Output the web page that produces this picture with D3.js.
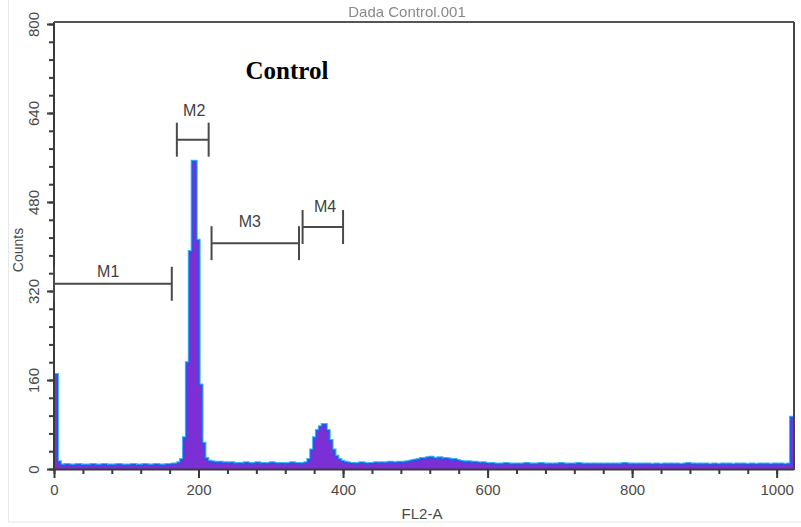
<!DOCTYPE html>
<html>
<head>
<meta charset="utf-8">
<script src="https://cdn.jsdelivr.net/npm/d3@7"></script>
<style>
  html, body { margin: 0; padding: 0; background: #fff; }
  svg { display: block; }
</style>
</head>
<body>
<svg id="chart" width="801" height="527"></svg>
<script>
// ---------------- data ----------------
const chartTitle = "Dada Control.001";
const panelLabel = "Control";
const xAxisTitle = "FL2-A";
const yAxisTitle = "Counts";
const binWidth = 4; // channels per bin
// counts per 4-channel bin, channels 0..1023
const counts = [
  169,12,6,5,7,6,5,6,7,5,6,6,5,7,6,5,
  6,7,5,6,5,6,7,6,5,6,6,7,5,6,5,7,
  6,5,6,7,6,5,6,7,7,8,8,10,16,55,190,390,
  552,410,150,45,18,13,12,11,10,11,9,10,9,10,8,9,
  9,8,10,9,8,9,10,8,9,8,9,10,9,8,9,9,
  8,9,10,9,9,8,9,10,16,33,55,68,75,79,68,50,
  33,22,16,13,11,10,9,9,8,9,10,9,8,9,9,10,
  9,10,9,10,11,10,10,11,10,11,12,13,14,15,16,18,
  17,19,20,18,17,19,16,18,17,15,16,14,13,12,11,12,
  10,11,10,9,10,9,8,9,8,7,8,8,9,8,7,8,
  8,7,8,9,8,7,8,8,9,8,7,8,7,8,8,9,
  8,7,8,8,7,9,8,7,8,7,8,8,7,8,7,8,
  7,8,8,7,8,9,8,7,8,7,8,7,8,8,7,7,
  8,7,7,8,7,8,7,8,7,7,8,9,7,8,7,8,
  7,8,7,7,8,7,7,8,7,8,7,7,8,7,8,7,
  7,8,7,7,8,7,8,7,7,8,7,8,7,7,8,92
];
const xTickLabels = [0, 200, 400, 600, 800, 1000];
const xMinorTicks = d3.range(0, 1024, 40);
const yTickLabels = [0, 160, 320, 480, 640, 800];
const yMinorTicks = d3.range(0, 801, 32);

// markers (channel ranges and gate levels in counts)
const markerNames  = ["M1", "M2", "M3", "M4"];
const markerStart  = [0, 170, 218, 344];
const markerEnd    = [163, 214, 339, 400];
const markerLevel  = [333, 592, 406, 435];
const markerLabelX = [75, 194, 271, 375];
const markerLabelY = [345, 635, 435, 462];

// ---------------- layout ----------------
const svg = d3.select("#chart");
const X0 = 54, X1 = 794, Y0 = 469, Y1 = 24, YTOP = 22;
const x = d3.scaleLinear().domain([0, 1024]).range([X0, X1]);
const y = d3.scaleLinear().domain([0, 800]).range([Y0, Y1]);
const axisColor = "#3a3a3a";
const textColor = "#4a4a4a";
const sans = "Liberation Sans, Arial, sans-serif";

// faint outer frame
svg.append("rect").attr("x", 8.5).attr("y", -2).attr("width", 800).attr("height", 524)
  .attr("fill", "none").attr("stroke", "#e8e8e8").attr("stroke-width", 1);

const defs = svg.append("defs");
defs.append("filter").attr("id", "blur").append("feGaussianBlur").attr("stdDeviation", 0.7);
defs.append("clipPath").attr("id", "titleClip").append("rect")
  .attr("x", 0).attr("y", 7).attr("width", 801).attr("height", 14);
defs.append("clipPath").attr("id", "plotClip").append("rect")
  .attr("x", X0 - 2).attr("y", YTOP).attr("width", X1 - X0 + 2).attr("height", Y0 - YTOP);

svg.append("text")
  .attr("x", 407).attr("y", 17)
  .attr("text-anchor", "middle")
  .attr("font-family", sans).attr("font-size", 15)
  .attr("fill", "#8a8a8a")
  .attr("clip-path", "url(#titleClip)")
  .attr("filter", "url(#blur)")
  .text(chartTitle);

// ---------------- histogram ----------------
const bins = counts.map((c, i) => ({ x0: i * binWidth, c }));
bins.push({ x0: counts.length * binWidth, c: counts[counts.length - 1] });

const area = d3.area()
  .x(d => x(d.x0))
  .y0(y(0))
  .y1(d => y(d.c))
  .curve(d3.curveStepAfter);
const line = d3.line()
  .x(d => x(d.x0))
  .y(d => y(d.c))
  .curve(d3.curveStepAfter);

const hist = svg.append("g").attr("clip-path", "url(#plotClip)");
hist.append("path").datum(bins).attr("d", line)
  .attr("fill", "none").attr("stroke", "#3cb8f6").attr("stroke-width", 4.2);
hist.append("path").datum(bins).attr("d", line)
  .attr("fill", "none").attr("stroke", "#1f5ef0").attr("stroke-width", 2.2);
hist.append("path").datum(bins).attr("d", area)
  .attr("fill", "#7b30d6");
// thin blue rim on the low baseline so it reads blue like the reference
hist.append("path").datum(bins).attr("d", line)
  .attr("fill", "none").attr("stroke", "#2a55e0").attr("stroke-width", 0.8)
  .attr("stroke-opacity", 0.6);

// ---------------- axes ----------------
function styleAxis(g) {
  g.select(".domain").remove();
  g.selectAll(".tick line").attr("stroke", axisColor).attr("stroke-width", 2);
  g.selectAll(".tick text").attr("fill", textColor).attr("font-family", sans).attr("font-size", 15);
}

svg.append("g").attr("transform", `translate(${X0},0)`)
  .call(d3.axisLeft(y).tickValues(yMinorTicks).tickSize(5).tickFormat(""))
  .call(styleAxis);
svg.append("g").attr("transform", `translate(0,${Y0})`)
  .call(d3.axisBottom(x).tickValues(xMinorTicks).tickSize(5).tickFormat(""))
  .call(styleAxis);

const yAx = svg.append("g").attr("transform", `translate(${X0},0)`)
  .call(d3.axisLeft(y).tickValues(yTickLabels).tickSize(7).tickFormat(d3.format("d")))
  .call(styleAxis);
yAx.selectAll(".tick text")
  .attr("x", 0).attr("dy", 0).attr("y", -15.5)
  .attr("text-anchor", "middle")
  .attr("transform", "rotate(-90)");

const xAx = svg.append("g").attr("transform", `translate(0,${Y0})`)
  .call(d3.axisBottom(x).tickValues(xTickLabels).tickSize(9).tickFormat(d3.format("d")))
  .call(styleAxis);
xAx.selectAll(".tick text").attr("y", 15).attr("dy", "0.71em");

// frame lines
svg.append("line").attr("x1", X0).attr("x2", X0).attr("y1", YTOP).attr("y2", Y0 + 1)
  .attr("stroke", axisColor).attr("stroke-width", 2);
svg.append("line").attr("x1", X0 - 1).attr("x2", X1).attr("y1", Y0 + 0.5).attr("y2", Y0 + 0.5)
  .attr("stroke", axisColor).attr("stroke-width", 2);
svg.append("line").attr("x1", X0).attr("x2", X1).attr("y1", YTOP).attr("y2", YTOP)
  .attr("stroke", "#555").attr("stroke-width", 2);
svg.append("line").attr("x1", X1).attr("x2", X1).attr("y1", YTOP).attr("y2", Y0 + 1)
  .attr("stroke", "#444").attr("stroke-width", 2);

// axis titles
svg.append("text")
  .attr("transform", `translate(23,250) rotate(-90)`)
  .attr("text-anchor", "middle")
  .attr("font-family", sans).attr("font-size", 14)
  .attr("fill", textColor).text(yAxisTitle);
svg.append("text")
  .attr("x", 422).attr("y", 519)
  .attr("text-anchor", "middle")
  .attr("font-family", sans).attr("font-size", 15)
  .attr("fill", textColor).text(xAxisTitle);

// ---------------- markers ----------------
const capHalf = 17;
const mk = svg.append("g").attr("stroke", "#4a4a4a").attr("stroke-width", 2);
markerNames.forEach((name, i) => {
  const ly = y(markerLevel[i]);
  const xa = x(markerStart[i]), xb = x(markerEnd[i]);
  mk.append("line").attr("x1", xa).attr("x2", xb).attr("y1", ly).attr("y2", ly);
  mk.append("line").attr("x1", xa).attr("x2", xa).attr("y1", ly - capHalf).attr("y2", ly + capHalf);
  mk.append("line").attr("x1", xb).attr("x2", xb).attr("y1", ly - capHalf).attr("y2", ly + capHalf);
  svg.append("text")
    .attr("x", x(markerLabelX[i])).attr("y", y(markerLabelY[i]))
    .attr("text-anchor", "middle")
    .attr("font-family", sans).attr("font-size", 16)
    .attr("fill", "#3f3f3f").text(name);
});

// panel label
svg.append("text")
  .attr("x", 287).attr("y", 79)
  .attr("text-anchor", "middle")
  .attr("font-family", "Liberation Serif, Times New Roman, serif")
  .attr("font-weight", "bold").attr("font-size", 25)
  .attr("fill", "#000").text(panelLabel);
</script>
</body>
</html>
